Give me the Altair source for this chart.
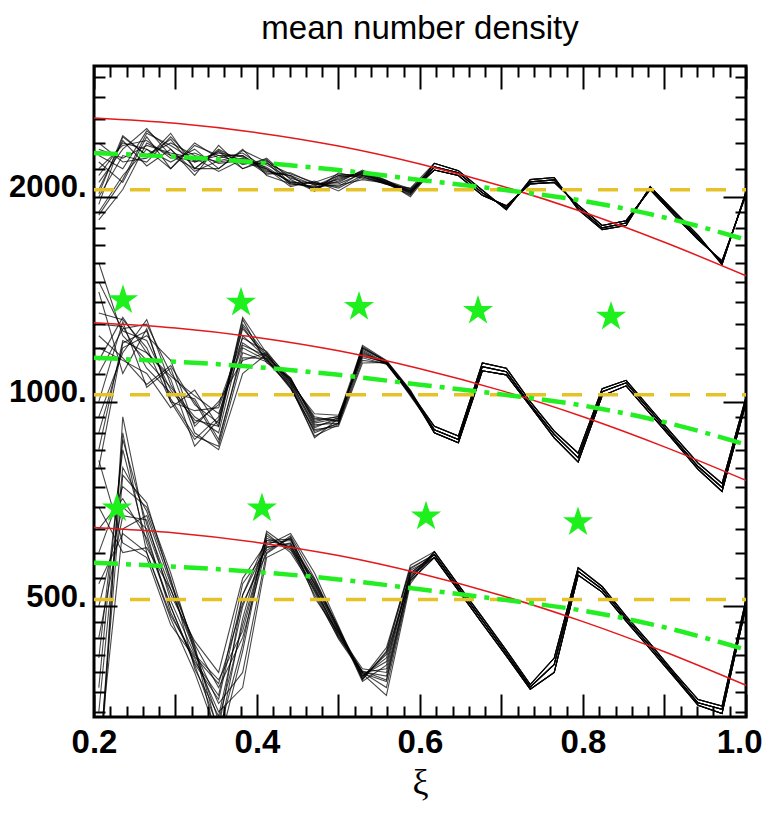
import altair as alt
import pandas as pd

# ---------------- data ----------------
TITLE = "mean number density"

# sampling points of the simulated profiles (xi)
XI = [0.2059, 0.2353, 0.2647, 0.2941, 0.3235, 0.3529, 0.3824, 0.4118, 0.4412, 0.4706,
      0.5000, 0.5294, 0.5588, 0.5882, 0.6176, 0.6471, 0.6765, 0.7059, 0.7353, 0.7647,
      0.7941, 0.8235, 0.8529, 0.8824, 0.9118, 0.9412, 0.9706, 1.0000]

# --- upper ensemble (around 2000) : first 14 points per run
TOP_HEADS = [
    [1850, 2050, 2400, 2300, 2200, 2350, 2250, 2200, 2100, 2060, 2150, 2160, 2100, 2030],
    [2000, 2300, 2250, 2450, 2250, 2300, 2300, 2180, 2150, 2080, 2120, 2180, 2110, 2040],
    [2150, 2400, 2350, 2250, 2350, 2200, 2340, 2250, 2080, 2100, 2060, 2150, 2090, 2010],
    [2300, 2200, 2500, 2350, 2150, 2380, 2200, 2280, 2120, 2040, 2170, 2130, 2100, 2050],
    [1950, 2450, 2300, 2400, 2300, 2250, 2280, 2160, 2170, 2090, 2100, 2190, 2115, 2020],
    [2250, 2100, 2450, 2200, 2400, 2280, 2320, 2200, 2070, 2110, 2040, 2140, 2085, 2060],
    [2100, 2350, 2520, 2300, 2250, 2330, 2200, 2260, 2140, 2050, 2130, 2170, 2105, 2000],
    [2400, 2250, 2280, 2480, 2200, 2200, 2350, 2150, 2090, 2070, 2080, 2120, 2095, 2045],
    [1900, 2150, 2350, 2200, 2380, 2300, 2240, 2240, 2160, 2100, 2160, 2150, 2110, 2035],
    [2050, 2420, 2220, 2350, 2180, 2260, 2300, 2190, 2110, 2060, 2110, 2180, 2090, 2025],
    [2200, 2380, 2420, 2280, 2320, 2240, 2260, 2230, 2130, 2085, 2090, 2165, 2100, 2030],
    [1880, 2120, 2480, 2380, 2260, 2320, 2290, 2170, 2150, 2040, 2140, 2155, 2095, 2015],
    [2350, 2280, 2380, 2320, 2280, 2180, 2270, 2210, 2100, 2095, 2070, 2175, 2112, 2055],
    [2020, 2460, 2300, 2430, 2200, 2340, 2230, 2270, 2090, 2075, 2150, 2140, 2088, 2042],
]
# last 14 points per run
TOP_TAILS = [
    [2214, 2169, 2027, 1927, 2104, 2118, 1930, 1801, 1831, 2062, 1894, 1741, 1600, 2027],
    [2190, 2150, 2010, 1940, 2090, 2100, 1945, 1815, 1845, 2050, 1880, 1730, 1610, 2015],
    [2240, 2185, 2045, 1915, 2120, 2135, 1915, 1790, 1815, 2070, 1905, 1755, 1590, 2035],
]

# --- middle ensemble (around 1000)
MID_HEADS = [
    [1600, 1250, 1150, 1050, 950, 900, 1250, 1160, 1070, 920, 940, 1180, 1140, 1030],
    [1350, 1320, 1200, 1000, 880, 950, 1300, 1170, 1060, 900, 930, 1200, 1145, 1035],
    [1100, 1280, 1300, 1100, 1000, 870, 1200, 1150, 1080, 940, 950, 1160, 1135, 1025],
    [900, 1200, 1250, 1150, 920, 1000, 1150, 1180, 1050, 890, 925, 1210, 1150, 1040],
    [1200, 1150, 1100, 980, 1040, 920, 1320, 1140, 1085, 930, 945, 1190, 1140, 1028],
    [1000, 1310, 1050, 1120, 900, 850, 1100, 1175, 1065, 960, 955, 1170, 1138, 1032],
    [1450, 1100, 1280, 1000, 970, 980, 1220, 1155, 1045, 910, 920, 1140, 1142, 1020],
    [850, 1230, 1180, 1080, 860, 940, 1280, 1165, 1075, 950, 935, 1200, 1148, 1038],
    [1300, 1290, 1120, 1030, 1010, 880, 1180, 1145, 1055, 885, 945, 1185, 1136, 1030],
    [950, 1180, 1320, 1060, 930, 990, 1240, 1185, 1070, 925, 930, 1165, 1144, 1026],
    [1500, 1270, 1230, 1040, 940, 920, 1290, 1150, 1062, 915, 948, 1175, 1141, 1029],
    [1150, 1330, 1180, 1090, 1020, 960, 1210, 1168, 1078, 945, 938, 1195, 1147, 1033],
    [800, 1220, 1270, 1010, 890, 860, 1160, 1158, 1048, 905, 928, 1150, 1139, 1022],
    [1250, 1160, 1060, 1130, 990, 930, 1330, 1178, 1082, 935, 952, 1205, 1146, 1036],
]
MID_TAILS = [
    [909, 880, 1126, 1107, 990, 895, 827, 1034, 1066, 970, 882, 803, 748, 1007],
    [900, 870, 1110, 1095, 985, 885, 815, 1020, 1055, 960, 875, 795, 738, 995],
    [920, 890, 1140, 1120, 1000, 905, 840, 1045, 1075, 978, 890, 812, 758, 1015],
]

# --- lower ensemble (around 500)
LOW_HEADS = [
    [300, 650, 680, 540, 440, 380, 450, 610, 620, 540, 460, 395, 420, 560],
    [420, 850, 620, 500, 410, 330, 520, 630, 610, 520, 450, 400, 380, 545],
    [600, 750, 700, 560, 430, 360, 400, 600, 635, 550, 465, 390, 430, 575],
    [280, 900, 600, 480, 400, 320, 480, 640, 600, 530, 455, 405, 400, 550],
    [500, 700, 650, 520, 445, 400, 550, 620, 625, 545, 462, 388, 410, 565],
    [820, 620, 590, 470, 420, 350, 380, 590, 615, 525, 448, 398, 370, 540],
    [350, 800, 690, 550, 405, 345, 500, 615, 640, 560, 468, 392, 435, 570],
    [700, 600, 610, 530, 435, 310, 430, 635, 605, 535, 452, 402, 390, 555],
    [260, 950, 640, 490, 415, 370, 540, 605, 630, 515, 458, 394, 425, 548],
    [450, 680, 670, 510, 425, 390, 460, 625, 612, 548, 463, 400, 405, 560],
    [380, 880, 660, 530, 430, 340, 470, 625, 628, 538, 460, 396, 415, 558],
    [650, 720, 630, 500, 412, 365, 520, 612, 618, 528, 452, 401, 395, 552],
    [290, 780, 710, 545, 438, 325, 440, 645, 608, 542, 466, 391, 428, 568],
    [540, 640, 600, 485, 422, 385, 505, 598, 632, 532, 457, 399, 388, 546],
]
LOW_TAILS = [
    [596, 533, 477, 427, 381, 411, 563, 530, 480, 437, 397, 361, 353, 507],
    [590, 528, 472, 423, 378, 400, 556, 525, 476, 433, 394, 358, 348, 500],
    [602, 538, 482, 431, 384, 420, 570, 535, 484, 441, 400, 365, 357, 512],
]

# smooth reference curves
XS = [0.2, 0.3, 0.4, 0.5, 0.6, 0.7, 0.8, 0.9, 1.0]
RED_TOP = [2612, 2565, 2485, 2375, 2235, 2075, 1900, 1715, 1531]
RED_MID = [1306, 1283, 1243, 1188, 1118, 1038, 950, 858, 766]
RED_LOW = [653, 641, 621, 594, 559, 519, 475, 429, 383]
GREEN_TOP = [2320, 2290, 2247, 2190, 2118, 2050, 1973, 1865, 1730]
GREEN_MID = [1160, 1145, 1124, 1095, 1059, 1025, 987, 933, 865]
GREEN_LOW = [580, 572, 562, 548, 530, 512, 493, 466, 432]

# horizontal levels
LEVEL_X = [0.2, 1.0]
LEVELS = [2048, 1024, 512]

# star markers
STAR_MID_XI = [0.2356, 0.3804, 0.5252, 0.6712, 0.8344]
STAR_MID_N = [1410, 1398, 1378, 1360, 1333]
STAR_LOW_XI = [0.2282, 0.4061, 0.6074, 0.7939]
STAR_LOW_N = [697, 697, 678, 665]

# axis ticks
X_MAJOR = [0.2, 0.3, 0.4, 0.5, 0.6, 0.7, 0.8, 0.9, 1.0]
X_MINOR = [0.22, 0.24, 0.26, 0.28, 0.32, 0.34, 0.36, 0.38, 0.42, 0.44, 0.46, 0.48,
           0.52, 0.54, 0.56, 0.58, 0.62, 0.64, 0.66, 0.68, 0.72, 0.74, 0.76, 0.78,
           0.82, 0.84, 0.86, 0.88, 0.92, 0.94, 0.96, 0.98]
Y_MAJOR = [500, 1000, 2000]
Y_MINOR = [350, 375, 400, 425, 450, 475, 550, 600, 650, 700, 750, 800, 850, 900, 950,
           1100, 1200, 1300, 1400, 1500, 1600, 1700, 1800, 1900,
           2200, 2400, 2600, 2800, 3000]

# ---------------- tables ----------------
rows = []
for g, heads, tails in (("t", TOP_HEADS, TOP_TAILS), ("m", MID_HEADS, MID_TAILS),
                        ("l", LOW_HEADS, LOW_TAILS)):
    for i, h in enumerate(heads):
        vals = h + tails[i % len(tails)]
        for x, v in zip(XI, vals):
            rows.append({"run": f"{g}{i}", "xi": x, "n": v})
runs = pd.DataFrame(rows)

curves = []
for name, arr in (("rt", RED_TOP), ("rm", RED_MID), ("rl", RED_LOW)):
    for x, v in zip(XS, arr):
        curves.append({"c": name, "xi": x, "n": v})
red = pd.DataFrame(curves)

curves = []
for name, arr in (("gt", GREEN_TOP), ("gm", GREEN_MID), ("gl", GREEN_LOW)):
    for x, v in zip(XS, arr):
        curves.append({"c": name, "xi": x, "n": v})
green = pd.DataFrame(curves)

lev = pd.DataFrame([{"c": str(L), "xi": x, "n": L} for L in LEVELS for x in LEVEL_X])

stars = pd.DataFrame(
    [{"xi": x, "n": n} for x, n in zip(STAR_MID_XI, STAR_MID_N)]
    + [{"xi": x, "n": n} for x, n in zip(STAR_LOW_XI, STAR_LOW_N)]
)

# ---------------- scales ----------------
W, H = 652, 651
xs = alt.Scale(domain=[0.2, 1.0], nice=False, zero=False)
ys = alt.Scale(type="log", domain=[344, 3114], nice=False)

FONT = "Liberation Sans"
common = dict(domain=False, grid=False, tickColor="black", tickWidth=2,
              minExtent=0, maxExtent=200)

x_none = alt.X("xi:Q", scale=xs, axis=None)
y_none = alt.Y("n:Q", scale=ys, axis=None)

lines = alt.Chart(runs).mark_line(color="black", strokeWidth=1.1, opacity=0.72, clip=True).encode(
    x=x_none, y=y_none, detail="run:N"
)
yellow = alt.Chart(lev).mark_line(color="#e6c229", strokeWidth=3.5, strokeDash=[20, 16]).encode(
    x=x_none, y=y_none, detail="c:N"
)
redl = alt.Chart(red).mark_line(color="#e3191c", strokeWidth=1.5, interpolate="monotone").encode(
    x=x_none, y=y_none, detail="c:N"
)
greenl = alt.Chart(green).mark_line(color="#22ee22", strokeWidth=4.5, strokeDash=[24, 8, 5, 8],
                                    interpolate="monotone").encode(
    x=x_none, y=y_none, detail="c:N"
)
STAR = ("M0,-1L0.2245,-0.309L0.9511,-0.309L0.3633,0.118L0.5878,0.809L0,0.382"
        "L-0.5878,0.809L-0.3633,0.118L-0.9511,-0.309L-0.2245,-0.309Z")
starl = alt.Chart(stars).mark_point(shape=STAR, size=1000, filled=True, color="#1ef01e",
                                    opacity=1, strokeWidth=0).encode(x=x_none, y=y_none)

title_layer = alt.Chart(pd.DataFrame({"t": [TITLE]})).mark_text(
    font=FONT, fontSize=33, color="black", align="center", baseline="alphabetic"
).encode(x=alt.value(W / 2), y=alt.value(-27), text="t:N")

# ---------------- axes (ticks pointing inwards on all four sides) ----------------
carrier = alt.Chart(lev).mark_point(opacity=0)

ax_main = carrier.encode(
    x=alt.X("xi:Q", scale=xs, axis=alt.Axis(
        orient="bottom", values=X_MAJOR, tickSize=alt.ExprRef(expr="-23"),
        labelExpr="round(datum.value*10) % 2 == 0 ? format(datum.value, '.1f') : ''",
        labelFont=FONT, labelFontSize=33, labelFontWeight="bold", labelColor="black",
        labelPadding=32, labelBaseline="top", labelFlush=False, labelOverlap=False,
        labelAlign={"condition": {"test": "datum.value >= 0.99", "value": "right"},
                    "value": "center"},
        labelOffset={"condition": {"test": "datum.value >= 0.99", "value": 16},
                     "value": 0},
        title="ξ", titleFont="Liberation Serif", titleFontSize=36, titleFontWeight="normal",
        titleColor="black", titleBaseline="alphabetic", titleY=76, **common)),
    y=alt.Y("n:Q", scale=ys, axis=alt.Axis(
        orient="left", values=Y_MAJOR, tickSize=alt.ExprRef(expr="-23"),
        labelExpr="datum.value + '.'", labelFont=FONT, labelFontSize=31,
        labelFontWeight="bold", labelColor="black", labelPadding=31,
        labelBaseline="alphabetic", labelOverlap=False, labelFlush=False,
        title=None, **common)),
)
ax_minor = carrier.encode(
    x=alt.X("xi:Q", scale=xs, axis=alt.Axis(
        orient="bottom", values=X_MINOR, tickSize=alt.ExprRef(expr="-11"),
        labels=False, title=None, **common)),
    y=alt.Y("n:Q", scale=ys, axis=alt.Axis(
        orient="left", values=Y_MINOR, tickSize=alt.ExprRef(expr="-11"),
        labels=False, title=None, **common)),
)
ax_top = carrier.encode(
    x=alt.X("xi:Q", scale=xs, axis=alt.Axis(
        orient="top", values=X_MAJOR, tickSize=alt.ExprRef(expr="-23"),
        labels=False, title=None, **common)),
    y=alt.Y("n:Q", scale=ys, axis=alt.Axis(
        orient="right", values=Y_MAJOR, tickSize=alt.ExprRef(expr="-23"),
        labels=False, title=None, **common)),
)
ax_top_minor = carrier.encode(
    x=alt.X("xi:Q", scale=xs, axis=alt.Axis(
        orient="top", values=X_MINOR, tickSize=alt.ExprRef(expr="-11"),
        labels=False, title=None, **common)),
    y=alt.Y("n:Q", scale=ys, axis=alt.Axis(
        orient="right", values=Y_MINOR, tickSize=alt.ExprRef(expr="-11"),
        labels=False, title=None, **common)),
)

chart = alt.layer(
    lines, yellow, redl, greenl, starl, title_layer,
    ax_main, ax_minor, ax_top, ax_top_minor
).resolve_axis(
    x="independent", y="independent"
).properties(
    width=W, height=H,
    padding={"left": 86, "top": 58, "right": 17, "bottom": 85},
    autosize=alt.AutoSizeParams(type="none"),
    background="white",
).configure_view(
    stroke="black", strokeWidth=3
)

chart.save("out.html", embed_options={"renderer": "svg", "actions": False})
